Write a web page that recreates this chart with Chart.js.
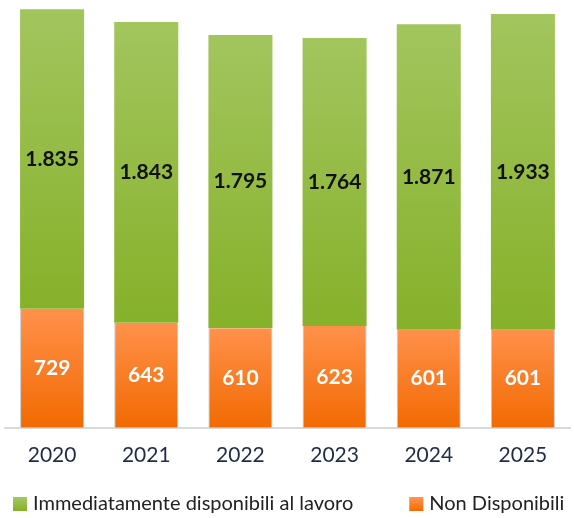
<!DOCTYPE html>
<html>
<head>
<meta charset="utf-8">
<script src="https://cdn.jsdelivr.net/npm/chart.js@4.4.1/dist/chart.umd.min.js"></script>
<style>
  html, body { margin: 0; padding: 0; background: #fff; overflow: hidden; }
  #wrap { width: 574px; height: 518px; }
</style>
</head>
<body>
<div id="wrap"><canvas id="chart" width="574" height="518"></canvas></div>
<script>
const years = ["2020", "2021", "2022", "2023", "2024", "2025"];
const nonDisponibili = [729, 643, 610, 623, 601, 601];
const disponibili = [1835, 1843, 1795, 1764, 1871, 1933];
const seriesNames = ["Immediatamente disponibili al lavoro", "Non Disponibili"];

const FONT = "Lato, 'Open Sans', sans-serif";

// vertical gradient fitted to each bar segment
const barGradient = (top, bottom) => (context) => {
  const chart = context.chart;
  const { ctx, chartArea, scales } = chart;
  if (!chartArea || context.dataIndex === undefined) return top;
  const i = context.dataIndex;
  const isGreen = context.datasetIndex === 1;
  const lo = isGreen ? nonDisponibili[i] : 0;
  const hi = isGreen ? nonDisponibili[i] + disponibili[i] : nonDisponibili[i];
  const y0 = scales.y.getPixelForValue(hi);
  const y1 = scales.y.getPixelForValue(lo);
  const g = ctx.createLinearGradient(0, y0, 0, y1);
  g.addColorStop(0, top);
  g.addColorStop(1, bottom);
  return g;
};

// numbers written in the middle of each segment
const segmentLabels = {
  id: "segmentLabels",
  afterDatasetsDraw(chart) {
    const { ctx } = chart;
    ctx.save();
    ctx.textAlign = "center";
    ctx.textBaseline = "middle";
    chart.data.datasets.forEach((ds, di) => {
      const meta = chart.getDatasetMeta(di);
      meta.data.forEach((bar, i) => {
        const v = ds.data[i];
        const text = v.toLocaleString("it-IT");
        ctx.fillStyle = di === 1 ? "#111" : "#fff";
        ctx.font = "bold 21px " + FONT;
        ctx.fillText(text, bar.x, (bar.y + bar.base) / 2);
      });
    });
    ctx.restore();
  }
};

// legend row along the bottom
const bottomLegend = {
  id: "bottomLegend",
  afterDraw(chart) {
    const { ctx } = chart;
    const items = [
      { text: seriesNames[0], top: "#a6c862", bottom: "#86b028" },
      { text: seriesNames[1], top: "#ff9550", bottom: "#f56c00" }
    ];
    ctx.save();
    ctx.font = "20px " + FONT;
    ctx.textBaseline = "middle";
    ctx.textAlign = "left";
    let x = 13;
    const y = 504;
    items.forEach((it) => {
      const g = ctx.createLinearGradient(0, y - 7, 0, y + 7);
      g.addColorStop(0, it.top);
      g.addColorStop(1, it.bottom);
      ctx.fillStyle = g;
      ctx.fillRect(x, y - 7, 14, 14);
      ctx.fillStyle = "#222";
      ctx.fillText(it.text, x + 20, y);
      x += 20 + ctx.measureText(it.text).width + 56;
    });
    ctx.restore();
  }
};

new Chart(document.getElementById("chart").getContext("2d"), {
  type: "bar",
  data: {
    labels: years,
    datasets: [
      {
        label: seriesNames[1],
        data: nonDisponibili,
        backgroundColor: barGradient("#ff914b", "#f26a02"),
        borderColor: "#c8c8c8",
        borderWidth: { left: 1, right: 1, top: 0, bottom: 0 },
        borderSkipped: false
      },
      {
        label: seriesNames[0],
        data: disponibili,
        backgroundColor: barGradient("#a3c55e", "#86b12a"),
        borderWidth: 0
      }
    ]
  },
  options: {
    responsive: false,
    animation: false,
    layout: { padding: { left: 5, right: 4, top: 0, bottom: 43 } },
    plugins: {
      legend: { display: false },
      tooltip: { enabled: false }
    },
    datasets: {
      bar: { categoryPercentage: 0.8, barPercentage: 0.85 }
    },
    scales: {
      x: {
        stacked: true,
        grid: { display: false },
        border: { color: "#d9d9d9", width: 2 },
        ticks: {
          color: "#1f2b47",
          padding: 7,
          font: { family: FONT, size: 21 }
        }
      },
      y: {
        stacked: true,
        display: false,
        min: 0,
        max: 2620
      }
    }
  },
  plugins: [segmentLabels, bottomLegend]
});
</script>
</body>
</html>
